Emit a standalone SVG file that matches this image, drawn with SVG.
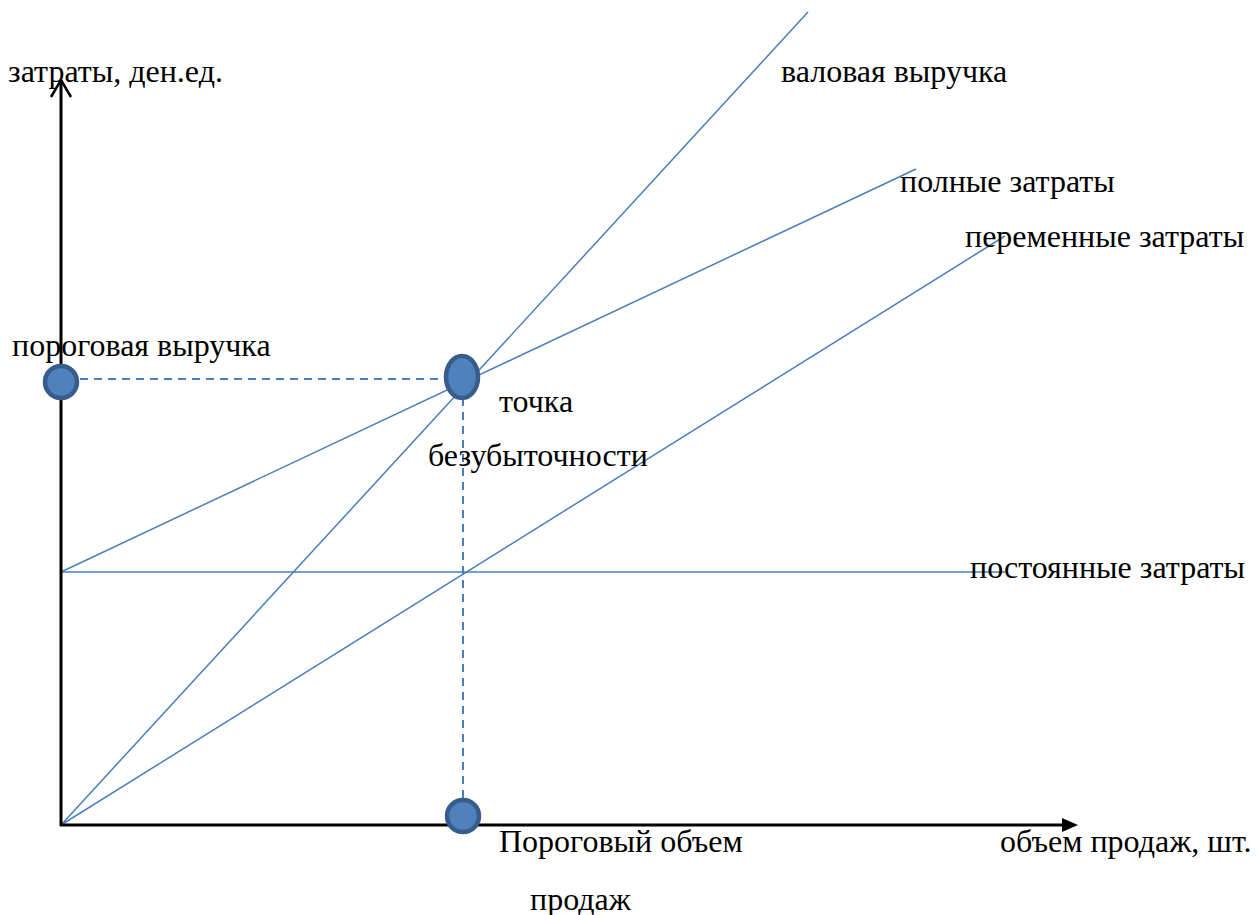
<svg xmlns="http://www.w3.org/2000/svg" width="1258" height="915" viewBox="0 0 1258 915">
<style>
.t{font-family:"Liberation Serif","Times New Roman",serif;font-size:32px;fill:#000}
.ln{stroke:#4a7ebb;stroke-width:1.5;fill:none}
.dash{stroke:#4a7ebb;stroke-width:2;fill:none;stroke-dasharray:8 6}
.ax{stroke:#000;stroke-width:3;fill:none}
.pt{fill:#4f81bd;stroke:#385d8a;stroke-width:4.5}
</style>
<rect width="1258" height="915" fill="#fff"/>
<g id="connectors">
<line class="ln" x1="61" y1="825" x2="808" y2="12"/>
<line class="ln" x1="61" y1="572" x2="916" y2="169"/>
<line class="ln" x1="61" y1="825" x2="1005" y2="236"/>
<line class="ln" x1="61" y1="572" x2="1005" y2="572"/>
<line class="dash" x1="80" y1="379" x2="445" y2="379"/>
<line class="dash" x1="463" y1="398" x2="463" y2="798"/>
</g>
<g id="axes">
<line class="ax" x1="61" y1="826" x2="61" y2="80"/>
<path d="M51,97 L61,80 L71,97" fill="none" stroke="#000" stroke-width="2.5"/>
<line class="ax" x1="60" y1="825" x2="1062" y2="825"/>
<path d="M1062,818 L1078,825 L1062,832 z" fill="#000"/>
</g>
<g id="node-threshold-revenue"><circle class="pt" cx="61" cy="382" r="16"/></g>
<g id="node-breakeven"><ellipse class="pt" cx="462" cy="377" rx="16" ry="21"/></g>
<g id="node-threshold-volume"><circle class="pt" cx="463" cy="816" r="16"/></g>
<g id="labels">
<text class="t" x="8" y="82">затраты, ден.ед.</text>
<text class="t" x="781" y="82">валовая выручка</text>
<text class="t" x="900" y="192">полные затраты</text>
<text class="t" x="965" y="247">переменные затраты</text>
<text class="t" x="12" y="356">пороговая выручка</text>
<text class="t" x="499" y="412">точка</text>
<text class="t" x="428" y="466">безубыточности</text>
<text class="t" x="970" y="578">постоянные затраты</text>
<text class="t" x="499" y="852">Пороговый объем</text>
<text class="t" x="1000" y="852">объем продаж, шт.</text>
<text class="t" x="530" y="910">продаж</text>
</g>
</svg>
